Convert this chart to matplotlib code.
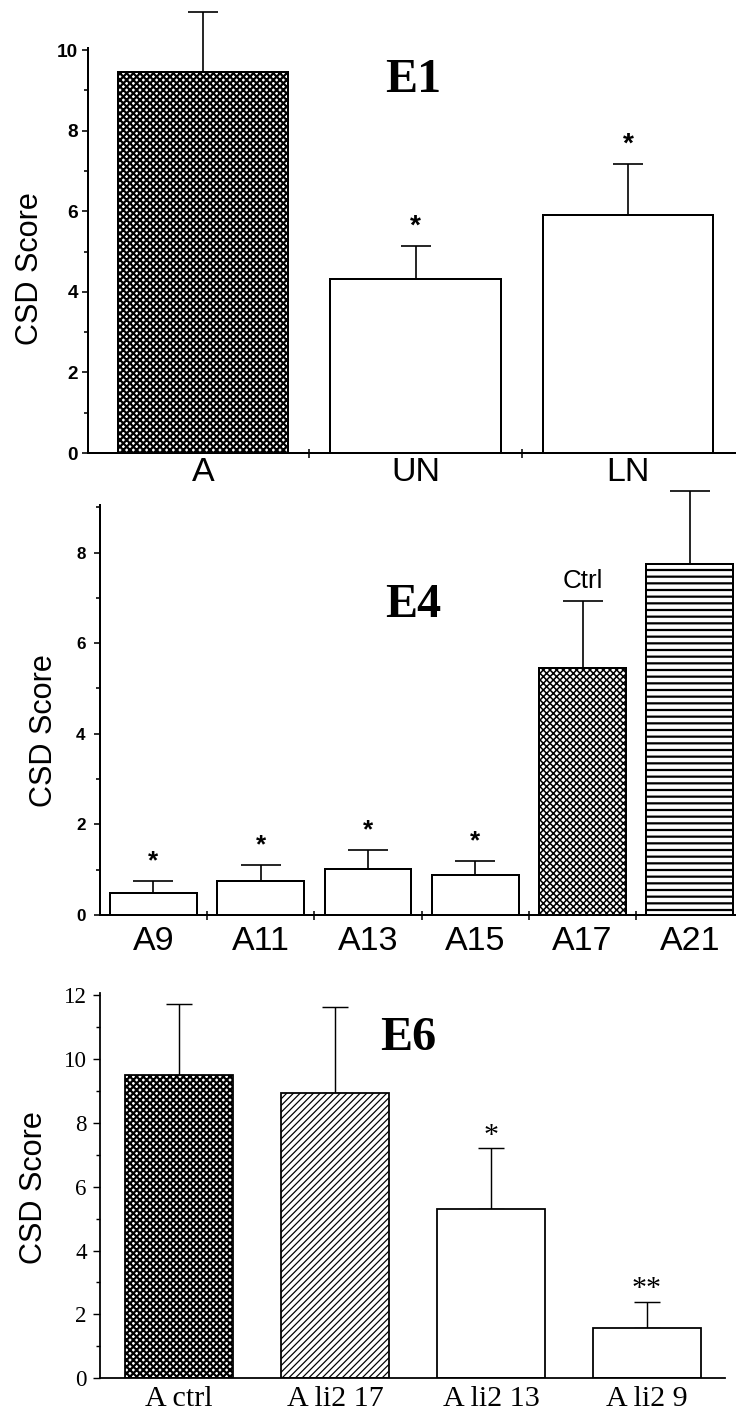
import numpy as np
import matplotlib
matplotlib.use("Agg")
import matplotlib.pyplot as plt
from matplotlib.ticker import MultipleLocator, FixedLocator, NullFormatter

# ---------------- data ----------------
e1_labels = ["A", "UN", "LN"]
e1_values = [9.45, 4.33, 5.90]
e1_errors = [1.50, 0.80, 1.26]
e1_sig = ["", "*", "*"]

e4_labels = ["A9", "A11", "A13", "A15", "A17", "A21"]
e4_values = [0.49, 0.74, 1.01, 0.88, 5.45, 7.74]
e4_errors = [0.26, 0.36, 0.42, 0.31, 1.48, 1.63]
e4_sig = ["*", "*", "*", "*", "", ""]
e4_note = ["", "", "", "", "Ctrl", ""]

e6_labels = ["A ctrl", "A li2 17", "A li2 13", "A li2 9"]
e6_values = [9.50, 8.92, 5.29, 1.57]
e6_errors = [2.22, 2.70, 1.91, 0.83]
e6_sig = ["", "", "*", "**"]

DPI = 80
W, H = 736, 1414
def pt(px):
    return px * 72.0 / DPI

SANS = ["Liberation Sans", "DejaVu Sans"]
NARROW = ["Liberation Sans Narrow", "Liberation Sans", "DejaVu Sans"]
SERIF = ["Liberation Serif", "DejaVu Serif"]

fig = plt.figure(figsize=(W / DPI, H / DPI), dpi=DPI)

def make_axes(left_px, right_px, zero_px, top_px):
    return fig.add_axes([left_px / W, (H - zero_px) / H,
                         (right_px - left_px) / W, (zero_px - top_px) / H])

def style_axes(ax, lw, major_len, minor_len, tick_font, tick_size, tick_weight, tick_pad):
    for s in ("top", "right"):
        ax.spines[s].set_visible(False)
    for s in ("left", "bottom"):
        ax.spines[s].set_linewidth(lw)
    ax.tick_params(axis="y", which="major", direction="out", length=pt(major_len),
                   width=lw * 0.8, pad=pt(tick_pad))
    ax.tick_params(axis="y", which="minor", direction="out", length=pt(minor_len),
                   width=lw * 0.8)
    for lab in ax.get_yticklabels():
        lab.set_family(tick_font)
        lab.set_fontsize(tick_size)
        lab.set_fontweight(tick_weight)

def add_bars(ax, values, errors, width, hatches, hatch_lws, edge_lw, err_lw, capsize):
    x = np.arange(len(values))
    for i in range(len(values)):
        with plt.rc_context({"hatch.linewidth": hatch_lws[i], "hatch.color": "black"}):
            bars = ax.bar(x[i], values[i], width=width, color="white",
                          edgecolor="black", linewidth=edge_lw, hatch=hatches[i], zorder=2)
        for b in bars:
            if hasattr(b, "set_hatch_linewidth"):
                b.set_hatch_linewidth(hatch_lws[i])
    ax.errorbar(x, values, yerr=[np.zeros(len(values)), errors], fmt="none",
                ecolor="black", elinewidth=err_lw, capsize=capsize, capthick=err_lw,
                zorder=1, clip_on=False)
    return x

def add_stars(ax, x, values, errors, marks, family, size, weight, center_px, glyph_mid):
    for xi, v, e, m in zip(x, values, errors, marks):
        if m:
            ax.annotate(m, xy=(xi, v + e), xytext=(0, pt(center_px) - glyph_mid * size),
                        textcoords="offset points", ha="center", va="baseline",
                        family=family, fontsize=size, fontweight=weight,
                        annotation_clip=False)

# ================= Panel E1 =================
ax1 = make_axes(88, 736, 453, 48)
x1 = add_bars(ax1, e1_values, e1_errors, 0.8, ["xxxx", "", ""], [2.0, 1, 1], 1.8, 1.5, pt(15))
ax1.set_ylim(0, 10.05)
ax1.set_xlim(-0.541, 2.508)
ax1.yaxis.set_major_locator(MultipleLocator(2))
ax1.yaxis.set_minor_locator(MultipleLocator(1))
ax1.xaxis.set_major_locator(FixedLocator(x1))
ax1.set_xticklabels(e1_labels)
ax1.xaxis.set_minor_locator(FixedLocator(x1[:-1] + 0.5))
ax1.xaxis.set_minor_formatter(NullFormatter())
ax1.tick_params(axis="x", which="major", length=0, pad=pt(4))
ax1.tick_params(axis="x", which="minor", direction="inout", length=pt(9), width=1.4)
for lab in ax1.get_xticklabels():
    lab.set_family(NARROW); lab.set_fontsize(pt(34))
style_axes(ax1, 1.8, 6, 4, SANS, pt(19), "bold", 4)
ax1.set_ylabel("CSD Score", family=SANS, fontsize=pt(30.6), va="center")
ax1.yaxis.set_label_coords(-0.09, 0.4556)
ax1.text(0.5015, 0.891, "E1", transform=ax1.transAxes, ha="center", va="baseline",
         family=SERIF, fontweight="bold", fontsize=pt(48))
add_stars(ax1, x1, e1_values, e1_errors, e1_sig, SANS, pt(28), "bold", 29, 0.575)

# ================= Panel E4 =================
ax2 = make_axes(99.5, 736, 915, 505)
x2 = add_bars(ax2, e4_values, e4_errors, 0.81, ["", "", "", "", "xxxx", "--"],
              [1, 1, 1, 1, 1.4, 2.0], 1.8, 1.5, pt(20))
ax2.set_ylim(0, 9.05)
ax2.set_xlim(-0.503, 5.43)
ax2.yaxis.set_major_locator(MultipleLocator(2))
ax2.yaxis.set_minor_locator(MultipleLocator(1))
ax2.xaxis.set_major_locator(FixedLocator(x2))
ax2.set_xticklabels(e4_labels)
ax2.xaxis.set_minor_locator(FixedLocator(x2[:-1] + 0.5))
ax2.xaxis.set_minor_formatter(NullFormatter())
ax2.tick_params(axis="x", which="major", length=0, pad=pt(11))
ax2.tick_params(axis="x", which="minor", direction="inout", length=pt(9), width=1.4)
for lab in ax2.get_xticklabels():
    lab.set_family(NARROW); lab.set_fontsize(pt(34))
style_axes(ax2, 1.8, 6, 4, SANS, pt(17), "bold", 8)
ax2.set_ylabel("CSD Score", family=SANS, fontsize=pt(30.6), va="center")
ax2.yaxis.set_label_coords(-0.0872, 0.45)
ax2.text(0.4925, 0.727, "E4", transform=ax2.transAxes, ha="center", va="baseline",
         family=SERIF, fontweight="bold", fontsize=pt(48))
add_stars(ax2, x2, e4_values, e4_errors, e4_sig, SANS, pt(26), "bold", 28, 0.575)
for xi, v, e, n in zip(x2, e4_values, e4_errors, e4_note):
    if n:
        ax2.annotate(n, xy=(xi, v + e), xytext=(0, pt(13)), textcoords="offset points",
                     ha="center", va="baseline", family=NARROW, fontsize=pt(26))

# ================= Panel E6 =================
ax3 = make_axes(99.5, 725, 1378.3, 993)
x3 = add_bars(ax3, e6_values, e6_errors, 0.69, ["xxxx", "////", "", ""],
              [2.0, 1.1, 1, 1], 1.6, 1.3, pt(13))
ax3.set_ylim(0, 12.06)
ax3.set_xlim(-0.51, 3.5)
ax3.yaxis.set_major_locator(MultipleLocator(2))
ax3.yaxis.set_minor_locator(MultipleLocator(1))
ax3.set_xticks(x3)
ax3.set_xticklabels(e6_labels)
ax3.tick_params(axis="x", which="major", length=0, pad=pt(8))
for lab in ax3.get_xticklabels():
    lab.set_family(SERIF); lab.set_fontsize(pt(30))
style_axes(ax3, 1.6, 7, 4, SERIF, pt(23), "normal", 5.5)
ax3.set_ylabel("CSD Score", family=SANS, fontsize=pt(30.6), va="center")
ax3.yaxis.set_label_coords(-0.1055, 0.494)
ax3.text(0.494, 0.852, "E6", transform=ax3.transAxes, ha="center", va="baseline",
         family=SERIF, fontweight="bold", fontsize=pt(48))
add_stars(ax3, x3, e6_values, e6_errors, e6_sig, SERIF, pt(30), "normal", 21, 0.52)

fig.savefig("out.png", dpi=DPI, facecolor="white")
